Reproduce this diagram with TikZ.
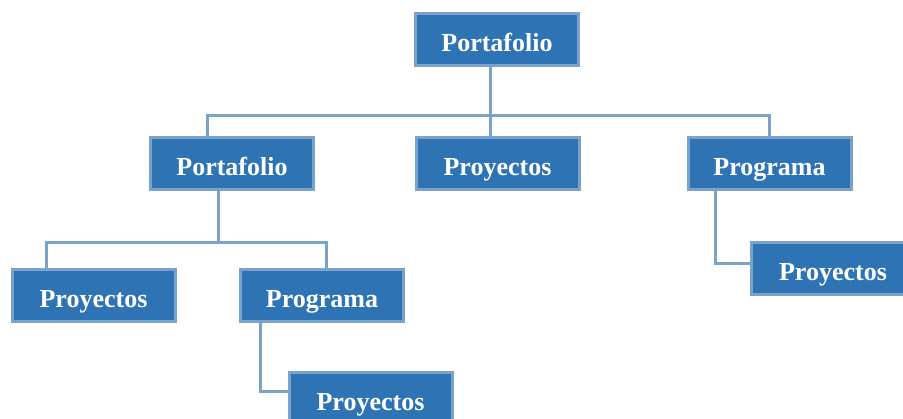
\documentclass[tikz,border=0pt]{standalone}
\usepackage{fontspec}
\setmainfont{Liberation Serif}
\definecolor{boxfill}{HTML}{2E74B5}
\definecolor{boxline}{HTML}{7BA3C9}
\begin{document}
\begin{tikzpicture}[x=1pt,y=-1pt,
  orgbox/.style={draw=boxline,line width=3pt,fill=boxfill,text=white,
    minimum width=163pt,minimum height=52pt,inner sep=0pt,
    text height=24pt,text depth=0pt,
    font=\fontsize{26}{30}\selectfont\bfseries},
  conn/.style={draw=boxline,line width=3pt}]
\useasboundingbox (0,0) rectangle (903,419);
\clip (0,0) rectangle (903,419);
\node[orgbox] (A) at (497,40) {Portafolio};
\node[orgbox] (B) at (232,164) {Portafolio};
\node[orgbox] (C) at (497.5,164) {Proyectos};
\node[orgbox] (D) at (769.5,164) {Programa};
\node[orgbox] (E) at (93.5,296) {Proyectos};
\node[orgbox] (F) at (322,296) {Programa};
\node[orgbox] (G) at (370.5,398.5) {Proyectos};
\node[orgbox] (H) at (833,269) {Proyectos};
\coordinate (J1) at (490,116);
\coordinate (J2) at (218,243);
\draw[conn] (490,0 |- A.south) -- (J1);
\draw[conn] (207,0 |- B.north) -- (207,116) -- (769,116) -- (769,0 |- D.north);
\draw[conn] (J1) -- (490,0 |- C.north);
\draw[conn] (218,0 |- B.south) -- (J2);
\draw[conn] (46,0 |- E.north) -- (46,243) -- (326,243) -- (326,0 |- F.north);
\draw[conn] (260,0 |- F.south) -- (260,392) -- (G.west |- 0,392);
\draw[conn] (715,0 |- D.south) -- (715,264) -- (H.west |- 0,264);
\end{tikzpicture}
\end{document}
